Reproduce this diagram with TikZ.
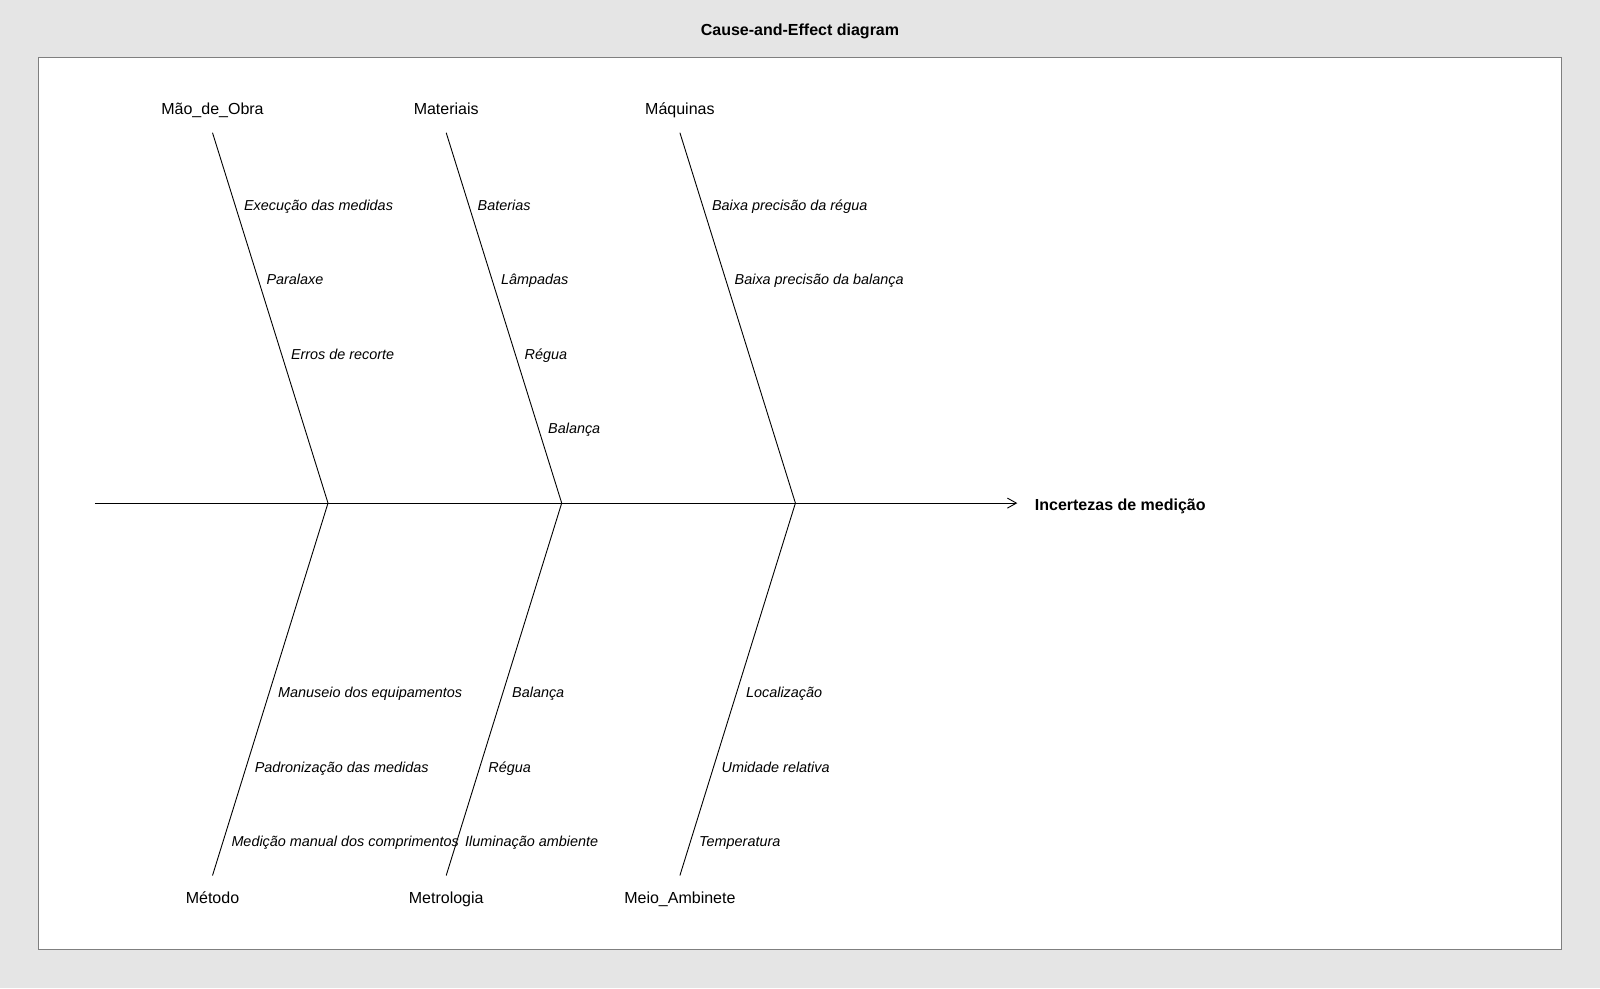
\documentclass[tikz,border=0pt]{standalone}
\usepackage{fontspec}
\setmainfont{Liberation Sans}
\usetikzlibrary{arrows.meta}
\definecolor{bgray}{HTML}{E5E5E5}
\definecolor{fgray}{HTML}{7F7F7F}
\tikzset{
  cat/.style={font=\fontsize{16}{19}\selectfont, anchor=base, inner sep=0pt},
  sub/.style={font=\fontsize{14.4}{17}\selectfont\itshape, anchor=west, inner sep=0pt, text height=10.4pt, text depth=0pt},
  bone/.style={draw=black, line width=0.9pt},
  spine/.style={draw=black, line width=0.9pt, -{Straight Barb[length=9pt,width=10pt,line width=0.9pt]}},
}
\begin{document}
\begin{tikzpicture}[x=1pt,y=-1pt]
\fill[bgray] (0,0) rectangle (1600,988);
\useasboundingbox (0,0) rectangle (1600,988);
\filldraw[fill=white, draw=fgray, line width=1.3pt] (38.3,57.3) rectangle (1561.7,949.3);
\node[font=\fontsize{16}{19}\selectfont\bfseries, anchor=base, inner sep=0pt] (title) at (800,35) {Cause-and-Effect diagram};
% spine
\coordinate (s0) at (94.9,503.1);
\coordinate (s1) at (1017.3,503.1);
\draw[spine] (s0) -- (s1);
\node[font=\fontsize{16}{19}\selectfont\bfseries, anchor=west, inner sep=0pt, text height=11.5pt, text depth=0pt] (eff) at (1034.7,504.8) {Incertezas de medição};
% bone coordinates
\coordinate (t1) at (212.5,132.7); \coordinate (j1) at (328.0,503.1); \coordinate (b1) at (212.5,875.5);
\coordinate (t2) at (446.2,132.7); \coordinate (j2) at (561.7,503.1); \coordinate (b2) at (446.2,875.5);
\coordinate (t3) at (679.9,132.7); \coordinate (j3) at (795.4,503.1); \coordinate (b3) at (679.9,875.5);
\draw[bone] (t1) -- (j1) -- (b1);
\draw[bone] (t2) -- (j2) -- (b2);
\draw[bone] (t3) -- (j3) -- (b3);
% category labels
\node[cat] (c1) at (212.5,114) {Mão\_de\_Obra};
\node[cat] (c2) at (446.2,114) {Materiais};
\node[cat] (c3) at (679.9,114) {Máquinas};
\node[cat] (c4) at (212.5,903) {Método};
\node[cat] (c5) at (446.2,903) {Metrologia};
\node[cat] (c6) at (679.9,903) {Meio\_Ambinete};
% sub causes upper
\node[sub] (a1) at (243.9,205.3) {Execução das medidas};
\node[sub] (a2) at (266.3,279.4) {Paralaxe};
\node[sub] (a3) at (290.8,354.3) {Erros de recorte};
\node[sub] (m1) at (477.5,205.3) {Baterias};
\node[sub] (m2) at (501.0,279.4) {Lâmpadas};
\node[sub] (m3) at (524.5,354.3) {Régua};
\node[sub] (m4) at (548.0,428.4) {Balança};
\node[sub] (q1) at (711.8,205.3) {Baixa precisão da régua};
\node[sub] (q2) at (734.5,279.4) {Baixa precisão da balança};
% sub causes lower
\node[sub] (d1) at (277.9,691.8) {Manuseio dos equipamentos};
\node[sub] (d2) at (254.6,766.8) {Padronização das medidas};
\node[sub] (d3) at (231.3,840.8) {Medição manual dos comprimentos};
\node[sub] (r1) at (512.0,691.8) {Balança};
\node[sub] (r2) at (488.2,766.8) {Régua};
\node[sub] (r3) at (465.0,840.8) {Iluminação ambiente};
\node[sub] (e1) at (745.9,691.8) {Localização};
\node[sub] (e2) at (721.4,766.8) {Umidade relativa};
\node[sub] (e3) at (699.0,840.8) {Temperatura};
\end{tikzpicture}
\end{document}
